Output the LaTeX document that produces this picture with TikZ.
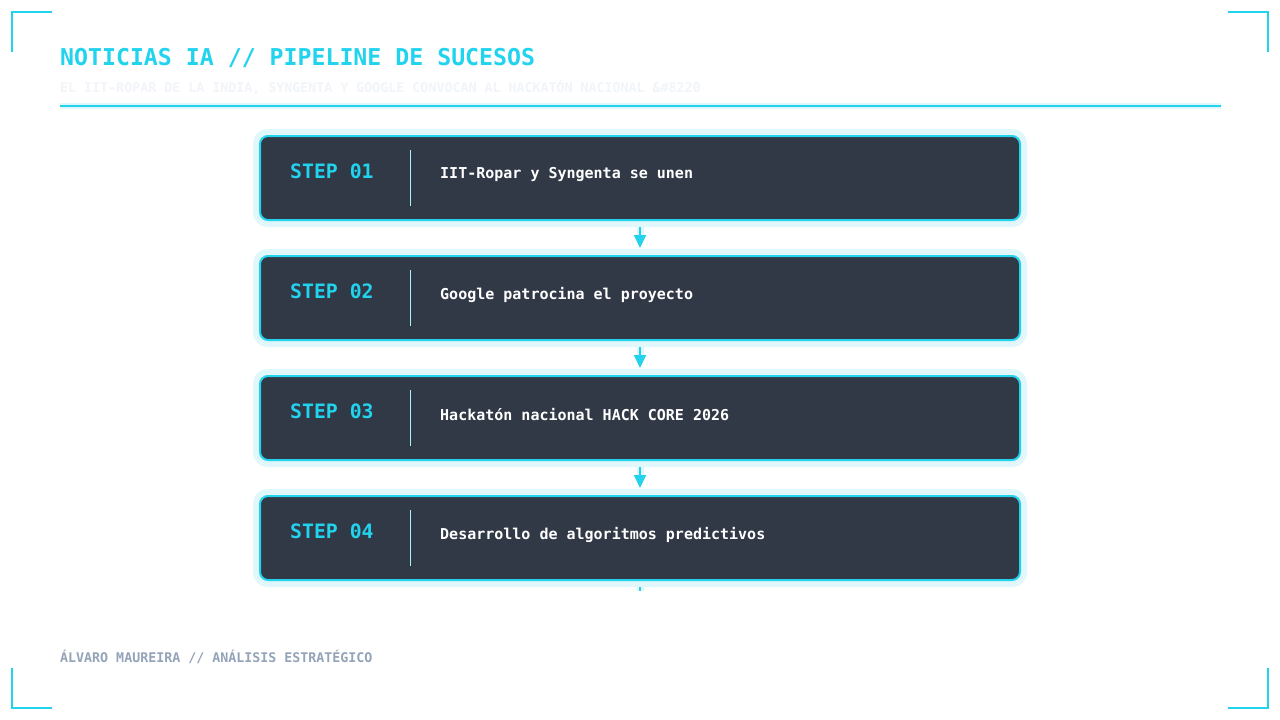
\documentclass[tikz,border=0pt]{standalone}
\usepackage{fontspec}
\setmainfont{DejaVu Sans Mono}
\usetikzlibrary{arrows.meta}
\definecolor{acc}{HTML}{22D3EE}
\definecolor{glow}{HTML}{E0F7FB}
\definecolor{boxfill}{HTML}{313846}
\definecolor{subtle}{HTML}{F1F5F9}
\definecolor{foot}{HTML}{94A3B8}
\definecolor{divc}{HTML}{A5F3FC}
\tikzset{
  corner/.style={draw=acc, line width=2pt},
  stepbox/.style={draw=acc, line width=2pt, fill=boxfill, rounded corners=8pt,
    minimum width=760pt, minimum height=84pt, inner sep=0pt,
    preaction={draw=glow, line width=14pt, rounded corners=8pt}},
  steplabel/.style={anchor=west, inner sep=0pt, text=acc, font=\bfseries\fontsize{19.8}{22}\selectfont},
  steptext/.style={anchor=west, inner sep=0pt, text=white, font=\bfseries\fontsize{15}{18}\selectfont},
  divider/.style={draw=divc, line width=1pt},
  flow/.style={draw=acc, line width=2pt, -{Triangle[width=12pt,length=13pt]}},
  flowglow/.style={draw=glow, line width=7pt},
}
\begin{document}
\begin{tikzpicture}[x=1pt,y=-1pt]
\useasboundingbox (0,0) rectangle (1280,720);
\fill[white] (0,0) rectangle (1280,720);
% corner marks
\draw[corner] (12,52) -- (12,12) -- (52,12);
\draw[corner] (1228,12) -- (1268,12) -- (1268,52);
\draw[corner] (12,668) -- (12,708) -- (52,708);
\draw[corner] (1228,708) -- (1268,708) -- (1268,668);
% header
\node[anchor=base west, inner sep=0pt, text=acc, font=\bfseries\fontsize{23.2}{26}\selectfont] (title) at (60,65) {NOTICIAS IA // PIPELINE DE SUCESOS};
\node[anchor=base west, inner sep=0pt, text=subtle, font=\bfseries\fontsize{13.3}{16}\selectfont] (subtitle) at (60,92.3) {EL IIT-ROPAR DE LA INDIA, SYNGENTA Y GOOGLE CONVOCAN AL HACKATÓN NACIONAL \&\#8220};
\draw[glow, line width=6pt] (60,105.5) -- (1221,105.5);
\draw[acc, line width=2pt] (60,105.5) -- (1221,105.5);
% steps
\node[stepbox] (b1) at (640,178) {};
\node[stepbox] (b2) at (640,298) {};
\node[stepbox] (b3) at (640,418) {};
\node[stepbox] (b4) at (640,538) {};
\foreach \b/\y in {b1/178,b2/298,b3/418,b4/538}{
  \draw[divider] (410,\y-28) -- (410,\y+28);
}
\node[steplabel] (s1) at (290,171) {STEP 01};
\node[steplabel] (s2) at (290,291) {STEP 02};
\node[steplabel] (s3) at (290,411) {STEP 03};
\node[steplabel] (s4) at (290,531) {STEP 04};
\node[steptext] (t1) at (440,174.5) {IIT-Ropar y Syngenta se unen};
\node[steptext] (t2) at (440,294.5) {Google patrocina el proyecto};
\node[steptext] (t3) at (440,414.5) {Hackatón nacional HACK CORE 2026};
\node[steptext] (t4) at (440,534.5) {Desarrollo de algoritmos predictivos};
% connectors
\foreach \a/\c in {b1/b2,b2/b3,b3/b4}{
  \draw[flowglow, shorten <=6pt, shorten >=20pt] (\a.south) -- (\c.north);
  \draw[flow, shorten <=6pt, shorten >=7pt] (\a.south) -- (\c.north);
}
\coordinate (tail) at (640,591);
\draw[flowglow, shorten <=6pt] (b4.south) -- (tail);
\draw[acc, line width=2pt, shorten <=6pt] (b4.south) -- (tail);
% footer
\node[anchor=base west, inner sep=0pt, text=foot, font=\bfseries\fontsize{13.3}{16}\selectfont] (footer) at (60,662) {ÁLVARO MAUREIRA // ANÁLISIS ESTRATÉGICO};
\end{tikzpicture}
\end{document}
